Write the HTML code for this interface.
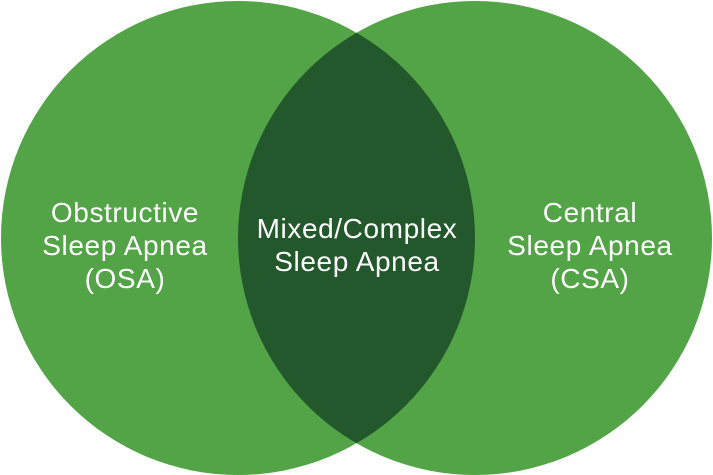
<!DOCTYPE html>
<html><head><style>
body{margin:0;background:#fff;}
svg{display:block;}
text{font-family:"Liberation Sans",sans-serif;font-size:28px;fill:#fff;text-anchor:middle;letter-spacing:0.6px;}
</style></head><body>
<svg width="713" height="475" viewBox="0 0 713 475">
<defs><clipPath id="c"><circle cx="238" cy="238" r="237"/></clipPath></defs>
<circle cx="238" cy="238" r="237" fill="#52a447"/>
<circle cx="475" cy="238" r="237" fill="#52a447"/>
<circle cx="475" cy="238" r="237" fill="#23582c" clip-path="url(#c)"/>
<text x="125" y="222">Obstructive</text>
<text x="125" y="255">Sleep Apnea</text>
<text x="125" y="288">(OSA)</text>
<text x="357" y="238">Mixed/Complex</text>
<text x="357" y="271">Sleep Apnea</text>
<text x="590" y="222">Central</text>
<text x="590" y="255">Sleep Apnea</text>
<text x="590" y="288">(CSA)</text>
</svg>
</body></html>
